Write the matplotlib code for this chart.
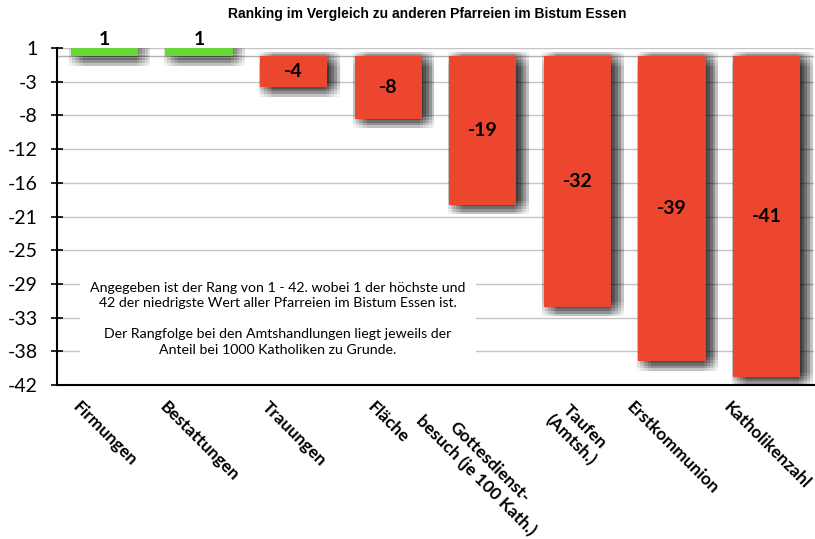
import numpy as np
import matplotlib
matplotlib.use('Agg')
import matplotlib.pyplot as plt
import matplotlib.patheffects as pe

# data
categories = ['Firmungen', 'Bestattungen', 'Trauungen', 'Fläche',
              'Gottesdienst-\nbesuch (je 100 Kath.)', 'Taufen\n(Amtsh.)',
              'Erstkommunion', 'Katholikenzahl']
ranks = [1, 1, -4, -8, -19, -32, -39, -41]
y_min, y_max = -42, 1
title = 'Ranking im Vergleich zu anderen Pfarreien im Bistum Essen'
note = ('Angegeben ist der Rang von 1 - 42. wobei 1 der höchste und\n'
        '42 der niedrigste Wert aller Pfarreien im Bistum Essen ist.\n\n'
        'Der Rangfolge bei den Amtshandlungen liegt jeweils der\n'
        'Anteil bei 1000 Katholiken zu Grunde.')

green = '#66d936'
red = '#ec462f'
font = 'Lato'

fig = plt.figure(figsize=(8.15, 5.39), dpi=100)
ax = fig.add_axes([57/815, 154/539, 757/815, 337/539])

# soft drop shadow made from stacked offset copies
shadow = []
for dx in range(-1, 10, 2):
    for dy in range(-7, 4, 2):
        shadow.append(pe.SimplePatchShadow(offset=(dx, dy), shadow_rgbFace='black', alpha=0.042))
shadow.append(pe.Normal())

x = np.arange(len(categories))
colors = [green if r > 0 else red for r in ranks]
bars = ax.bar(x, ranks, width=0.71, color=colors, zorder=2)
for b in bars:
    b.set_path_effects(shadow)

ax.axhline(0, color='#b0b0b0', lw=1, zorder=1)

for xi, r in zip(x, ranks):
    if r > 0:
        ax.annotate(str(r), (xi, r), xytext=(0, 0), textcoords='offset points',
                    ha='center', va='bottom', fontsize=14, fontweight='bold', family=font, zorder=4)
    else:
        ax.text(xi, r / 2, str(r), ha='center', va='center', fontsize=14,
                fontweight='bold', family=font, zorder=4)

ax.set_xlim(-0.5, len(categories) - 0.5)
ax.set_ylim(y_min, y_max)

ticks = np.linspace(y_max, y_min, 11)
labels = [str(int(np.sign(t) * np.floor(abs(t) + 0.5))) for t in ticks]
ax.set_yticks(ticks)
ax.set_yticklabels(labels, family=font, fontsize=14)
ax.tick_params(axis='y', direction='inout', length=8, width=1.2, pad=10)

ax.set_xticks(x)
ax.set_xticklabels(categories, rotation=-45, ha='center', va='top', multialignment='center',
                   family=font, fontsize=12.5, fontweight='bold')
ax.tick_params(axis='x', length=0, pad=10)

ax.set_axisbelow(True)
ax.yaxis.grid(True, color='#c4c4c4', lw=1)
for s in ['top', 'right']:
    ax.spines[s].set_visible(False)
ax.spines['left'].set_linewidth(1.5)
ax.spines['bottom'].set_linewidth(1.5)

ax.text(0.292, 0.196, note, transform=ax.transAxes, ha='center', va='center',
        fontsize=10.2, family=font, linespacing=1.35, zorder=5,
        bbox=dict(boxstyle='square,pad=0.7', fc='white', ec='none'))

fig.text(427/815, 1 - 14/539, title, ha='center', va='center', fontsize=10,
         fontweight='bold', family='Liberation Sans')

fig.savefig('out.png', dpi=100)
